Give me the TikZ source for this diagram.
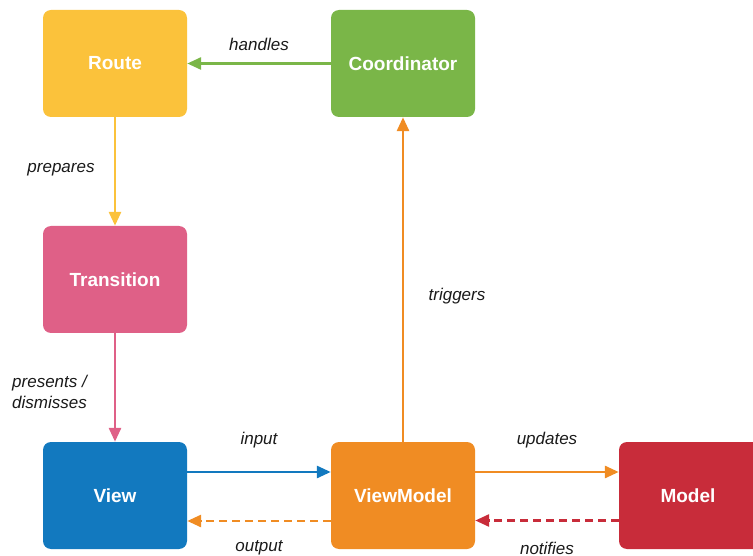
\documentclass[tikz,border=0pt]{standalone}
\usepackage{fontspec}
\setmainfont{Liberation Sans}
\usetikzlibrary{arrows.meta}
\definecolor{cRoute}{HTML}{FBC23B}
\definecolor{cCoord}{HTML}{7AB648}
\definecolor{cTrans}{HTML}{DF6087}
\definecolor{cView}{HTML}{1279BF}
\definecolor{cVM}{HTML}{F08C23}
\definecolor{cModel}{HTML}{C82C3A}
\definecolor{cText}{HTML}{1A1A1A}
\tikzset{
  box/.style={rectangle, rounded corners=8pt, minimum width=144pt, minimum height=107pt, inner sep=0pt, text=white, font=\fontsize{19}{22}\selectfont\bfseries},
  conn/.style={line width=2.8pt, -{Triangle[length=14pt,width=12pt]}},
  dconn/.style={conn, dash pattern=on 8pt off 5pt},
  lbl/.style={text=cText, font=\fontsize{17}{21}\selectfont\itshape, inner sep=0pt}
}
\begin{document}
\begin{tikzpicture}[x=1pt,y=-1pt]
\useasboundingbox (0,0) rectangle (753,556);
\clip (0,0) rectangle (753,556);
\node[box, fill=cRoute] (route) at (115,63.5) {Route};
\node[box, fill=cCoord] (coord) at (403,63.5) {Coordinator};
\node[box, fill=cTrans] (trans) at (115,279.5) {Transition};
\node[box, fill=cView] (view) at (115,495.5) {View};
\node[box, fill=cVM] (vm) at (403,495.5) {ViewModel};
\node[box, fill=cModel] (model) at (691,495.5) {\hspace*{-6pt}Model};

\draw[conn, cCoord] (coord) -- (route);
\draw[conn, cRoute] (route) -- (trans);
\draw[conn, cTrans] (trans) -- (view);
\draw[conn, cVM] (vm) -- (coord);
\draw[conn, cView] ([yshift=23.5pt]view.east) -- ([yshift=23.5pt]vm.west);
\draw[dconn, cVM] ([yshift=-25.5pt]vm.west) -- ([yshift=-25.5pt]view.east);
\draw[conn, cVM] ([yshift=23.5pt]vm.east) -- ([yshift=23.5pt]model.west);
\draw[dconn, cModel] ([yshift=-25pt]model.west) -- ([yshift=-25pt]vm.east);

\node[lbl] (lhandles) at (259,44) {handles};
\node[lbl] (lprepares) at (61,170) {prepares};
\node[lbl, align=left, anchor=west] (lpresents) at (12,392) {presents /\\dismisses};
\node[lbl] (ltriggers) at (457,296) {triggers};
\node[lbl] (linput) at (259,440) {input};
\node[lbl] (loutput) at (259,548) {output};
\node[lbl] (lupdates) at (547,440) {updates};
\node[lbl] (lnotifies) at (547,548) {notifies};
\end{tikzpicture}
\end{document}
